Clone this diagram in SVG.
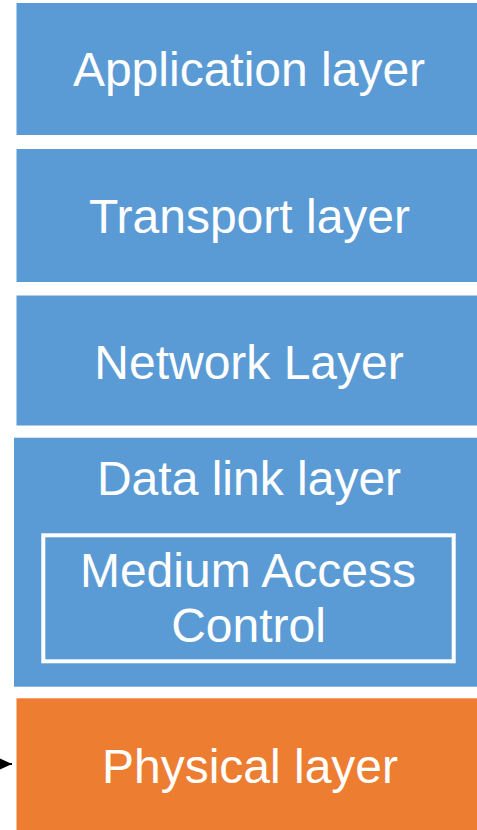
<svg xmlns="http://www.w3.org/2000/svg" width="477" height="830" viewBox="0 0 477 830">
<style>
.blue{fill:#5B9BD5}
.orange{fill:#ED7D31}
.t{font-family:"Liberation Sans",Arial,sans-serif;font-size:48px;fill:#FFFFFF;text-anchor:middle}
.inner{fill:none;stroke:#FFFFFF;stroke-width:4}
</style>
<defs>
<marker id="ah" markerWidth="12" markerHeight="12" viewBox="0 0 12 12" refX="12" refY="6" orient="auto" markerUnits="userSpaceOnUse">
<path d="M0,0.5 L12,6 L0,11.5 Z" fill="#000000"/>
</marker>
</defs>
<rect width="477" height="830" fill="#FFFFFF"/>
<g id="application">
<rect class="blue" x="16.5" y="3" width="460.5" height="132"/>
<text class="t" x="249" y="86">Application layer</text>
</g>
<g id="transport">
<rect class="blue" x="16.5" y="149" width="460.5" height="133"/>
<text class="t" x="249.5" y="233">Transport layer</text>
</g>
<g id="network">
<rect class="blue" x="16.5" y="295.5" width="460.5" height="130"/>
<text class="t" x="249" y="379">Network Layer</text>
</g>
<g id="datalink">
<rect class="blue" x="14" y="437.7" width="463" height="249"/>
<text class="t" x="249" y="495">Data link layer</text>
</g>
<g id="mac">
<rect class="inner" x="43.3" y="535.3" width="410.4" height="126"/>
<text class="t" x="248" y="587">Medium Access</text>
<text class="t" x="248.5" y="642">Control</text>
</g>
<g id="physical">
<rect class="orange" x="16.5" y="698.3" width="460.5" height="131.7"/>
<text class="t" x="250" y="783">Physical layer</text>
</g>
<g id="connectors">
<line x1="-40" y1="764" x2="12" y2="764" stroke="#000000" stroke-width="2" marker-end="url(#ah)"/>
</g>
</svg>
